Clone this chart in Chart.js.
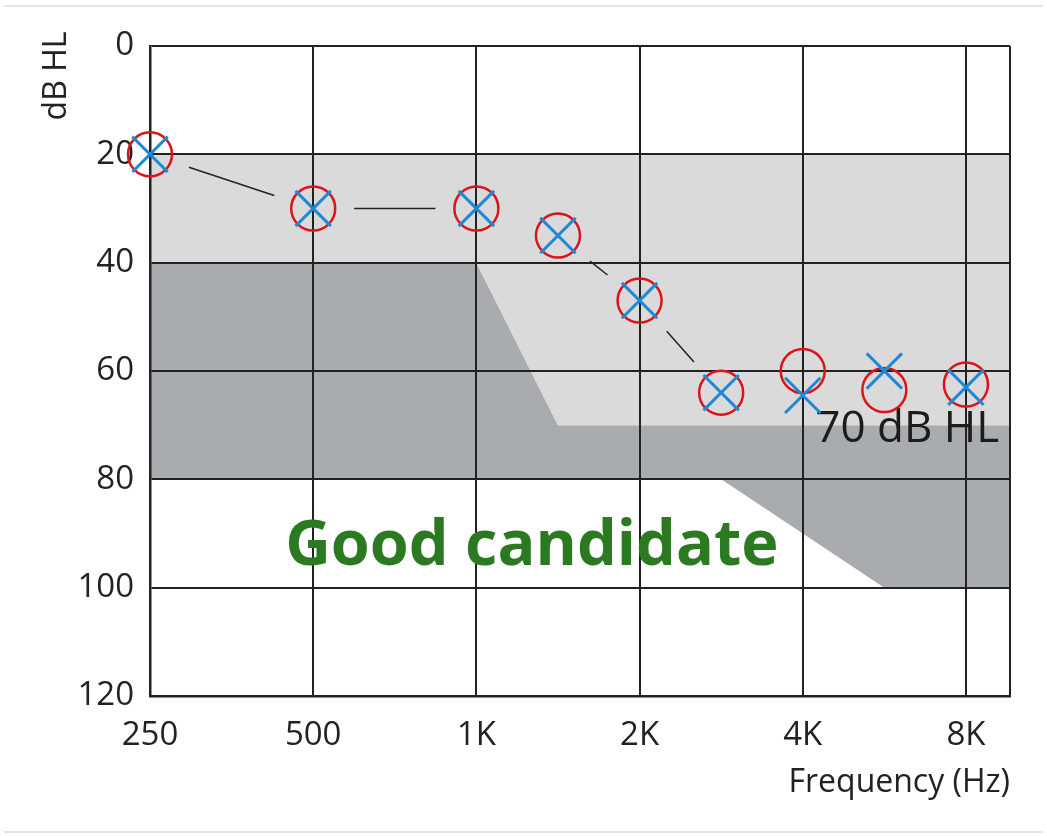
<!DOCTYPE html>
<html>
<head>
<meta charset="utf-8">
<title>Audiogram</title>
<script src="https://cdn.jsdelivr.net/npm/chart.js@4.4.1/dist/chart.umd.min.js"></script>
<style>
  html, body { margin: 0; padding: 0; background: #fff; }
  #wrap { position: relative; width: 1047px; height: 836px; }
  #frame { position: absolute; left: 4px; right: 4px; top: 5px; bottom: 3px;
           border-top: 2px solid #e4e4e4; border-bottom: 2px solid #e4e4e4; }
  canvas { position: absolute; left: 0; top: 0; }
</style>
</head>
<body>
<div id="wrap">
  <div id="frame"></div>
  <canvas id="audiogram" width="1047" height="836"></canvas>
</div>
<script>
// tested frequencies and where they sit on the octave axis (half-octaves in between)
var frequencies = [250, 500, 1000, 1500, 2000, 3000, 4000, 6000, 8000];
var freqPos = [0, 1, 2, 2.5, 3, 3.5, 4, 4.5, 5];
var tickLabels = ['250', '500', '1K', '2K', '4K', '8K'];

// thresholds in dB HL
var rightEar = [20, 30, 30, 35, 47, 64, 60, 63.5, 62.5]; // O
var leftEar = [20, 30, 30, 35, 47, 64, 64.5, 60, 63];   // X
var joinedPoints = 6; // thin line joins the first six O marks

// shaded zones (x on octave axis, y in dB HL)
var zoneX = [0, 2, 2.5, 3.5, 4.5, 5.27];
var zoneTop = 20;
var zoneMid = [40, 40, 70, 70, 70, 70];
var zoneBottom = [80, 80, 80, 80, 100, 100];

var xMax = 5.27;
var yMax = 120;

function pts(xs, ys) {
  return xs.map(function (x, i) { return { x: x, y: ys[i] }; });
}

Chart.defaults.font.family = "'Open Sans', 'Noto Sans', sans-serif";
Chart.defaults.color = '#222';

var gapLines = {
  id: 'gapLines',
  beforeDatasetsDraw: function (chart) {
    var ctx = chart.ctx, xs = chart.scales.x, ys = chart.scales.y;
    var gap = 41;
    ctx.save();
    ctx.strokeStyle = '#222';
    ctx.lineWidth = 1.5;
    for (var i = 0; i < joinedPoints - 1; i++) {
      var x1 = xs.getPixelForValue(freqPos[i]), y1 = ys.getPixelForValue(rightEar[i]);
      var x2 = xs.getPixelForValue(freqPos[i + 1]), y2 = ys.getPixelForValue(rightEar[i + 1]);
      var d = Math.hypot(x2 - x1, y2 - y1);
      if (d <= gap * 2 + 8) continue;
      var ux = (x2 - x1) / d, uy = (y2 - y1) / d;
      ctx.beginPath();
      ctx.moveTo(x1 + ux * gap, y1 + uy * gap);
      ctx.lineTo(x2 - ux * gap, y2 - uy * gap);
      ctx.stroke();
    }
    ctx.restore();
  }
};

var notes = {
  id: 'notes',
  afterDraw: function (chart) {
    var ctx = chart.ctx;
    ctx.save();
    ctx.translate(57, 76);
    ctx.rotate(-Math.PI / 2);
    ctx.textAlign = 'center';
    ctx.textBaseline = 'middle';
    ctx.fillStyle = '#222';
    ctx.font = "32px 'Open Sans', sans-serif";
    ctx.fillText('dB HL', 0, 0);
    ctx.restore();
  },
  beforeDatasetsDraw: function (chart) {
    var ctx = chart.ctx, xs = chart.scales.x, ys = chart.scales.y;
    ctx.save();
    ctx.textAlign = 'center';
    ctx.textBaseline = 'middle';
    ctx.fillStyle = '#1c1c1c';
    ctx.font = "44px 'Open Sans', sans-serif";
    ctx.fillText('70 dB HL', xs.getPixelForValue(4.64), ys.getPixelForValue(70.8));
    ctx.fillStyle = '#2b7a22';
    ctx.font = "bold 63px 'Open Sans', sans-serif";
    ctx.fillText('Good candidate', xs.getPixelForValue(2.34), ys.getPixelForValue(92.5));
    ctx.restore();
  }
};

var ctx = document.getElementById('audiogram').getContext('2d');
var chart = new Chart(ctx, {
  type: 'line',
  data: {
    datasets: [
      { label: 'Left', data: pts(freqPos, leftEar), showLine: false, clip: false,
        pointStyle: 'crossRot', pointRadius: 25, pointBorderWidth: 3,
        pointBorderColor: '#1e8ad6' },
      { label: 'Right', data: pts(freqPos, rightEar), showLine: false, clip: false,
        pointStyle: 'circle', pointRadius: 22, pointBorderWidth: 2.5,
        pointBorderColor: '#d9151b', pointBackgroundColor: 'rgba(0,0,0,0)' },
      { data: pts(zoneX, zoneMid), borderWidth: 0, pointRadius: 0,
        fill: { target: { value: zoneTop } }, backgroundColor: '#dadada' },
      { data: pts(zoneX, zoneBottom), borderWidth: 0, pointRadius: 0, fill: '-1',
        backgroundColor: '#aaabae' }
    ]
  },
  options: {
    responsive: false,
    animation: false,
    layout: { padding: { top: 46, right: 37, bottom: 34, left: 38 } },
    plugins: {
      legend: { display: false },
      tooltip: { enabled: false },
      filler: { drawTime: 'beforeDraw' }
    },
    scales: {
      x: {
        type: 'linear',
        min: 0,
        max: xMax,
        afterFit: function (s) { s.height = 106; },
        afterBuildTicks: function (s) {
          s.ticks = [0, 1, 2, 3, 4, 5, xMax].map(function (v) { return { value: v }; });
        },
        ticks: {
          padding: 20,
          font: { size: 33 },
          color: '#222',
          callback: function (v) { return Number.isInteger(v) ? tickLabels[v] : ''; }
        },
        grid: { color: '#222', lineWidth: 2, drawTicks: false },
        border: { color: '#222', width: 2.5 },
        title: {
          display: true, text: 'Frequency (Hz)', align: 'end',
          font: { size: 32 }, color: '#222', padding: 0
        }
      },
      y: {
        type: 'linear',
        reverse: true,
        min: 0,
        max: yMax,
        afterFit: function (s) { s.width = 112; },
        ticks: {
          stepSize: 20,
          padding: 16,
          font: { size: 33 },
          color: '#222'
        },
        grid: { color: '#222', lineWidth: 2, drawTicks: false },
        border: { color: '#222', width: 2.5 }
      }
    }
  },
  plugins: [gapLines, notes]
});
</script>
</body>
</html>
